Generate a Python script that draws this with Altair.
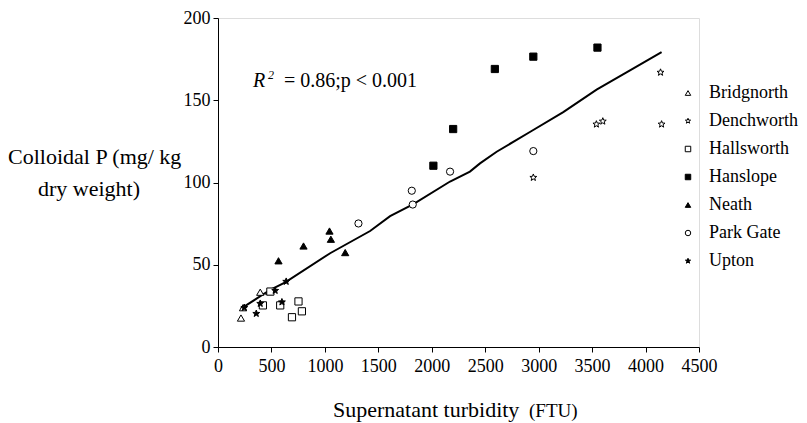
import altair as alt
import pandas as pd
import math

# ---------------- data ----------------
sites = ["Bridgnorth", "Denchworth", "Hallsworth", "Hanslope", "Neath", "Park Gate", "Upton"]

bridgnorth_x = [215, 234, 395, 480]
bridgnorth_y = [17.6, 23.9, 33.3, 33.7]
denchworth_x = [2950, 3540, 3600, 4140, 4150]
denchworth_y = [103, 135.4, 137.2, 166.9, 135.4]
hallsworth_x = [420, 490, 582, 692, 753, 785]
hallsworth_y = [25.3, 33.7, 25.3, 18.1, 27.7, 21.7]
hanslope_x = [2015, 2200, 2590, 2950, 3550]
hanslope_y = [110.2, 132.5, 169.0, 176.5, 182.0]
neath_x = [566, 800, 1043, 1056, 1190]
neath_y = [52.4, 61.4, 70.5, 65.5, 57.4]
parkgate_x = [1314, 1813, 1822, 2171, 2950]
parkgate_y = [75.1, 95.0, 86.6, 106.6, 119.1]
upton_x = [246, 358, 395, 535, 598, 638]
upton_y = [23.9, 20.3, 26.4, 34.3, 27.3, 39.8]

fit_x = [215, 489, 629, 1049, 1423, 1610, 1828, 2171, 2357, 2451, 2607, 2918, 3230, 3542, 3822, 4150]
fit_y = [23.3, 34.8, 39.3, 57.0, 70.5, 79.5, 86.9, 100.6, 106.6, 111.6, 118.7, 130.7, 142.8, 156.4, 166.9, 179.3]

x_ticks = [0, 500, 1000, 1500, 2000, 2500, 3000, 3500, 4000, 4500]
y_ticks = [0, 50, 100, 150, 200]

# ---------------- build tables ----------------
series = [
    ("Bridgnorth", bridgnorth_x, bridgnorth_y),
    ("Denchworth", denchworth_x, denchworth_y),
    ("Hallsworth", hallsworth_x, hallsworth_y),
    ("Hanslope", hanslope_x, hanslope_y),
    ("Neath", neath_x, neath_y),
    ("Park Gate", parkgate_x, parkgate_y),
    ("Upton", upton_x, upton_y),
]
rows = []
for name, xs, ys in series:
    for xv, yv in zip(xs, ys):
        rows.append({"site": name, "turb": xv, "cp": yv})
pts = pd.DataFrame(rows)
fit = pd.DataFrame({"turb": fit_x, "cp": fit_y})

# five-pointed star symbol path
star_pts = []
for i in range(10):
    a = math.radians(-90 + 36 * i)
    r = 1.0 if i % 2 == 0 else 0.42
    star_pts.append(f"{r*math.cos(a):.3f},{r*math.sin(a):.3f}")
STAR = "M" + "L".join(star_pts) + "Z"

shapes = ["triangle-up", STAR, "square", "square", "triangle-up", "circle", STAR]
fills = ["white", "white", "white", "black", "black", "white", "black"]
strokes = ["black"] * 7

FONT = "Liberation Serif"
W, H = 481, 329

xscale = alt.Scale(domain=[0, 4500], nice=False, zero=False)
yscale = alt.Scale(domain=[0, 200], nice=False)

xax = alt.Axis(values=x_ticks, format="d", title=None, grid=False, domainColor="black", tickColor="black",
               tickSize=5, labelFont=FONT, labelFontSize=18, labelColor="black", labelPadding=5,
               labelOverlap=False, labelFlush=False)
yax = alt.Axis(values=y_ticks, format="d", title=None, grid=False, domainColor="black", tickColor="black",
               tickSize=5, labelFont=FONT, labelFontSize=18, labelColor="black", labelPadding=3,
               labelOverlap=False, labelFlush=False)

def leg():
    return alt.Legend(title=None, orient="none", legendX=461, legendY=66,
                      labelFont=FONT, labelFontSize=18, labelColor="black",
                      symbolSize=30, symbolStrokeWidth=1,
                      labelOffset=12, rowPadding=10, padding=0)

points = alt.Chart(pts).mark_point(filled=True, strokeWidth=1, size=52, opacity=1).encode(
    x=alt.X("turb:Q", scale=xscale, axis=xax),
    y=alt.Y("cp:Q", scale=yscale, axis=yax),
    shape=alt.Shape("site:N", scale=alt.Scale(domain=sites, range=shapes), legend=leg()),
    fill=alt.Fill("site:N", scale=alt.Scale(domain=sites, range=fills), legend=leg()),
    stroke=alt.Stroke("site:N", scale=alt.Scale(domain=sites, range=strokes), legend=leg()),
)

line = alt.Chart(fit).mark_line(color="black", strokeWidth=2).encode(
    x=alt.X("turb:Q", scale=xscale, axis=xax),
    y=alt.Y("cp:Q", scale=yscale, axis=yax),
)

def label(txt, x, y, size=17, align="left", style="normal", baseline="alphabetic"):
    return alt.Chart(pd.DataFrame({"t": [txt]})).mark_text(
        font=FONT, fontSize=size, align=align, baseline=baseline, fontStyle=style, color="black"
    ).encode(text="t:N", x=alt.value(x), y=alt.value(y))

annot = (
    label("R", 35, 69, size=20, style="italic")
    + label("2", 50, 61, size=12, style="italic")
    + label("= 0.86;p < 0.001", 66, 69, size=20)
)
ytitle = label("Colloidal P (mg/ kg", -210, 146, size=22) + label("dry weight)", -180, 178, size=22)
xtitle = label("Supernatant turbidity", 115, 399, size=22) + label("(FTU)", 311, 399, size=19)

chart = alt.layer(line, points, annot, ytitle, xtitle).properties(
    width=W, height=H,
    autosize=alt.AutoSizeParams(type="none"),
    padding={"left": 210, "top": 10, "right": 100, "bottom": 76},
).configure_view(stroke=None).configure_axis(labelFont=FONT).configure(background="white")

chart.save("out.html", embed_options={"renderer": "svg", "actions": False})
